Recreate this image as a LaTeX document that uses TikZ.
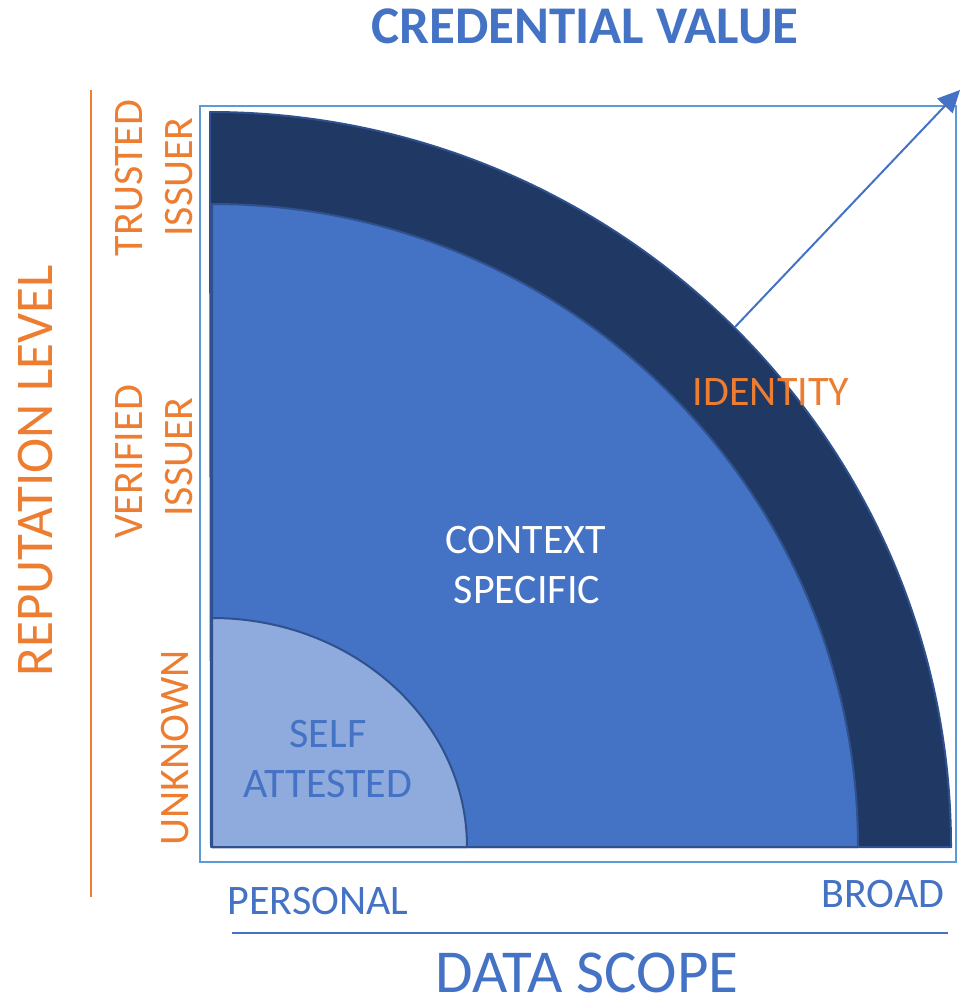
\documentclass[tikz,border=0pt]{standalone}
\usepackage{fontspec}
\setmainfont{Carlito}
\usetikzlibrary{arrows.meta}
\definecolor{accblue}{HTML}{4472C4}
\definecolor{accorange}{HTML}{ED7D31}
\definecolor{framecol}{HTML}{5B9BD5}
\definecolor{darknavy}{HTML}{203864}
\definecolor{lightblue}{HTML}{8FAADC}
\definecolor{edgeblue}{HTML}{2F528F}
\tikzset{
  lbl/.style={inner sep=0pt, anchor=base, font=\fontsize{42}{50}\selectfont},
  orangelbl/.style={lbl, text=accorange},
  bluelbl/.style={lbl, text=accblue},
  sector/.style={draw=edgeblue, line width=2pt, line join=round},
  arrowline/.style={draw=accblue, line width=2pt, -{Triangle[length=22pt,width=21pt]}},
}
\begin{document}
\begin{tikzpicture}[x=1pt,y=-1pt]
\useasboundingbox (0,0) rectangle (961,1003);
% frame
\draw[framecol, line width=2.8pt] (200,106) rectangle (956,862);
% sectors
\path[sector, fill=darknavy] (211,847) -- (210,112) arc[start angle=90,end angle=0,x radius=741pt,y radius=735pt] -- cycle;
\path[sector, fill=accblue] (212,847) -- (212,204) arc[start angle=90,end angle=0,x radius=646pt,y radius=643pt] -- cycle;
\path[sector, fill=lightblue] (212,847) -- (212,618) arc[start angle=90,end angle=0,x radius=255pt,y radius=229pt] -- cycle;
\draw[edgeblue, line width=2.5pt] (211,847) -- (951,847);
% arrow
\coordinate (arcpt) at (735,327);
\coordinate (tip) at (960,90);
\draw[arrowline] (arcpt) -- (tip);
% axis lines
\coordinate (vtop) at (91,90);
\coordinate (vbot) at (91,897);
\draw[accorange, line width=1.5pt] (vtop) -- (vbot);
\coordinate (hleft) at (232,933);
\coordinate (hright) at (948,933);
\draw[accblue, line width=1.5pt] (hleft) -- (hright);
% titles
\node[bluelbl, font=\bfseries\fontsize{53}{64}\selectfont] (title) at (585,44) {CREDENTIAL VALUE};
\node[bluelbl, text depth=0pt, font=\fontsize{61}{72}\selectfont] (datascope) at (587,992) {DATA SCOPE};
\node[orangelbl, font=\fontsize{53}{64}\selectfont, rotate=90] (replevel) at (52,471) {REPUTATION LEVEL};
% left labels
\node[orangelbl, rotate=90] (trusted) at (142,178) {TRUSTED};
\node[orangelbl, rotate=90] (issuerA) at (192,177) {ISSUER};
\node[orangelbl, rotate=90] (verified) at (142,462) {VERIFIED};
\node[orangelbl, rotate=90] (issuerB) at (192,457) {ISSUER};
\node[orangelbl, rotate=90] (unknown) at (188,748) {UNKNOWN};
% bottom labels
\node[bluelbl] (personal) at (318,914) {PERSONAL};
\node[bluelbl] (broad) at (883,907) {BROAD};
% inner labels
\node[orangelbl] (identity) at (771,405) {IDENTITY};
\node[lbl, text=white] (context) at (526,553) {CONTEXT};
\node[lbl, text=white] (specific) at (527,603) {SPECIFIC};
\node[bluelbl] (self) at (328,747) {SELF};
\node[bluelbl] (attested) at (328,797) {ATTESTED};
\end{tikzpicture}
\end{document}
